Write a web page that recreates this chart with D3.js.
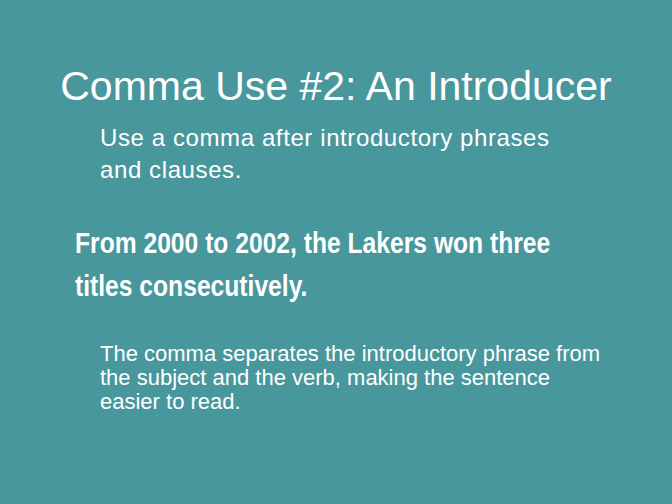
<!DOCTYPE html>
<html>
<head>
<meta charset="utf-8">
<script src="https://cdn.jsdelivr.net/npm/d3@7"></script>
<style>
  html, body { margin: 0; padding: 0; background: #48979c; }
</style>
</head>
<body>
<div id="slide"></div>
<script>
// Slide text content
const title = "Comma Use #2: An Introducer";
const ruleLines = ["Use a comma after introductory phrases", "and clauses."];
const exampleLines = ["From 2000 to 2002, the Lakers won three", "titles consecutively."];
const noteLines = [
    "The comma separates the introductory phrase from",
    "the subject and the verb, making the sentence",
    "easier to read."
];

const width = 672, height = 504;

const svg = d3.select("#slide")
    .append("svg")
    .attr("width", width)
    .attr("height", height);

svg.append("rect")
    .attr("width", width)
    .attr("height", height)
    .attr("fill", "#48979c");

// Title
svg.append("text")
    .attr("x", width / 2)
    .attr("y", 100)
    .attr("text-anchor", "middle")
    .attr("font-family", "Liberation Sans, Arial, sans-serif")
    .attr("font-size", 41)
    .attr("fill", "#fff")
    .text(title);

// Rule
svg.selectAll("text.rule")
    .data(ruleLines)
    .enter()
    .append("text")
    .attr("class", "rule")
    .attr("x", 100)
    .attr("y", (d, i) => 146 + i * 32)
    .attr("font-family", "Liberation Sans, Arial, sans-serif")
    .attr("font-size", 24)
    .attr("letter-spacing", 0.6)
    .attr("fill", "#fff")
    .text(d => d);

// Example sentence (bold condensed, squeezed horizontally)
svg.selectAll("g.example")
    .data(exampleLines)
    .enter()
    .append("g")
    .attr("class", "example")
    .attr("transform", (d, i) => `translate(75,${253 + i * 43}) scale(0.85,1)`)
    .append("text")
    .attr("font-family", "Liberation Sans Narrow, Arial Narrow, Liberation Sans, sans-serif")
    .attr("font-weight", "bold")
    .attr("font-size", 29)
    .attr("fill", "#fff")
    .text(d => d);

// Explanation
svg.selectAll("text.note")
    .data(noteLines)
    .enter()
    .append("text")
    .attr("class", "note")
    .attr("x", 100)
    .attr("y", (d, i) => 361 + i * 24)
    .attr("font-family", "Liberation Sans, Arial, sans-serif")
    .attr("font-size", 22)
    .attr("fill", "#fff")
    .text(d => d);
</script>
</body>
</html>
